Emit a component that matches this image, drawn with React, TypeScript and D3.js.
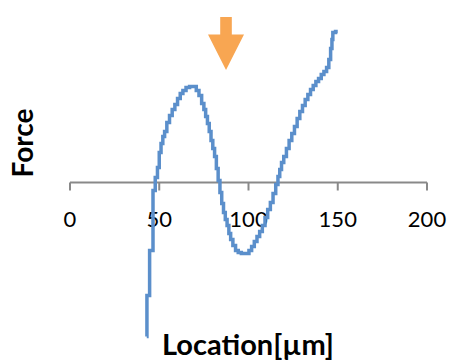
import React from "react";
import * as d3 from "d3";

// Location (µm)
const locations: number[] = [
  43.0, 43.2, 46.0, 47.0, 48.5, 49.5, 50.5, 51.5, 52.5, 53.5, 55.0, 56.5, 58.0, 59.5, 61.0, 62.5, 64.0, 66.0, 68.0, 70.0,
  71.5, 73.0, 74.5, 75.5, 76.5, 77.5, 78.5, 79.5, 80.5, 81.5, 82.5, 83.5, 84.5, 85.5, 86.5, 87.5, 88.5, 89.5, 90.5, 92.0,
  93.5, 95.0, 97.0, 99.5, 101.0, 102.5, 104.0, 105.5, 107.0, 108.5, 110.0, 111.5, 113.0, 114.5, 116.0, 117.0, 118.0, 119.0,
  120.5, 122.0, 123.5, 125.0, 126.5, 128.0, 129.5, 131.0, 132.5, 134.0, 135.5, 137.0, 138.5, 140.0, 141.5, 143.0, 144.5,
  145.5, 146.5, 147.0, 147.5, 150.0,
];
// Force (arbitrary units)
const forces: number[] = [
  -15.4, -11.3, -6.8, -0.8, 0.5, 1.5, 3.0, 3.9, 4.6, 5.1, 6.0, 6.7, 7.3, 7.8, 8.4, 8.9, 9.2, 9.5, 9.6, 9.6,
  9.2, 8.7, 7.9, 7.3, 6.6, 5.9, 5.1, 4.2, 3.4, 2.6, 1.4, 0.2, -1.0, -2.1, -3.0, -3.7, -4.3, -5.1, -5.7, -6.3,
  -6.8, -7.0, -7.1, -7.1, -6.8, -6.4, -5.9, -5.4, -4.9, -4.3, -3.5, -2.7, -2.0, -1.1, -0.2, 0.6, 1.3, 2.0,
  2.6, 3.4, 4.2, 4.9, 5.6, 6.4, 7.1, 7.7, 8.3, 8.8, 9.3, 9.7, 10.1, 10.4, 10.8, 11.1, 11.5,
  12.3, 13.4, 14.3, 15.0, 15.1,
];
const xTicks: number[] = [0, 50, 100, 150, 200];
const arrowLocation: number[] = [87.4];
const xTitle = "Location[µm]";
const yTitle = "Force";

export default function App() {
  const W = 449, H = 363;
  const x = d3.scaleLinear().domain([0, 200]).range([70, 427]);
  const y = d3.scaleLinear().domain([-16, 16]).range([342.5, 22.5]);
  const pts = locations.map((l, i) => [l, forces[i]] as [number, number]);
  const line = d3.line<[number, number]>().x(d => x(d[0])).y(d => y(d[1])).curve(d3.curveStep);
  const y0 = y(0);
  const font = "Lato, 'Open Sans', sans-serif";
  const ax = x(arrowLocation[0]);
  const arrowPath = `M${ax - 5.8},17 L${ax + 5.8},17 L${ax + 5.8},34.5 L${ax + 18},34.5 L${ax},70 L${ax - 18},34.5 L${ax - 5.8},34.5 Z`;
  return (
    <svg width={W} height={H} style={{ position: "absolute", left: 0, top: 0, background: "#fff" }}>
      <rect width={W} height={H} fill="#fff" />
      <line x1={x(0)} x2={x(200)} y1={y0} y2={y0} stroke="#898989" strokeWidth={2} />
      {xTicks.map(t => (
        <g key={t}>
          <line x1={x(t)} x2={x(t)} y1={y0} y2={y0 + 8} stroke="#898989" strokeWidth={2} />
          <text x={x(t)} y={227} textAnchor="middle" fontFamily={font} fontSize={22} fill="#000">{t}</text>
        </g>
      ))}
      <path d={line(pts) || ""} fill="none" stroke="#5B8FCB" strokeWidth={3.5} strokeLinejoin="miter" />
      <path d={arrowPath} fill="#F8A652" />
      <text x={248} y={355} textAnchor="middle" fontFamily={font} fontSize={29} fontWeight="bold" fill="#000">{xTitle}</text>
      <text transform={`translate(33,143) rotate(-90)`} textAnchor="middle" fontFamily={font} fontSize={28} fontWeight="bold" fill="#000">{yTitle}</text>
    </svg>
  );
}
